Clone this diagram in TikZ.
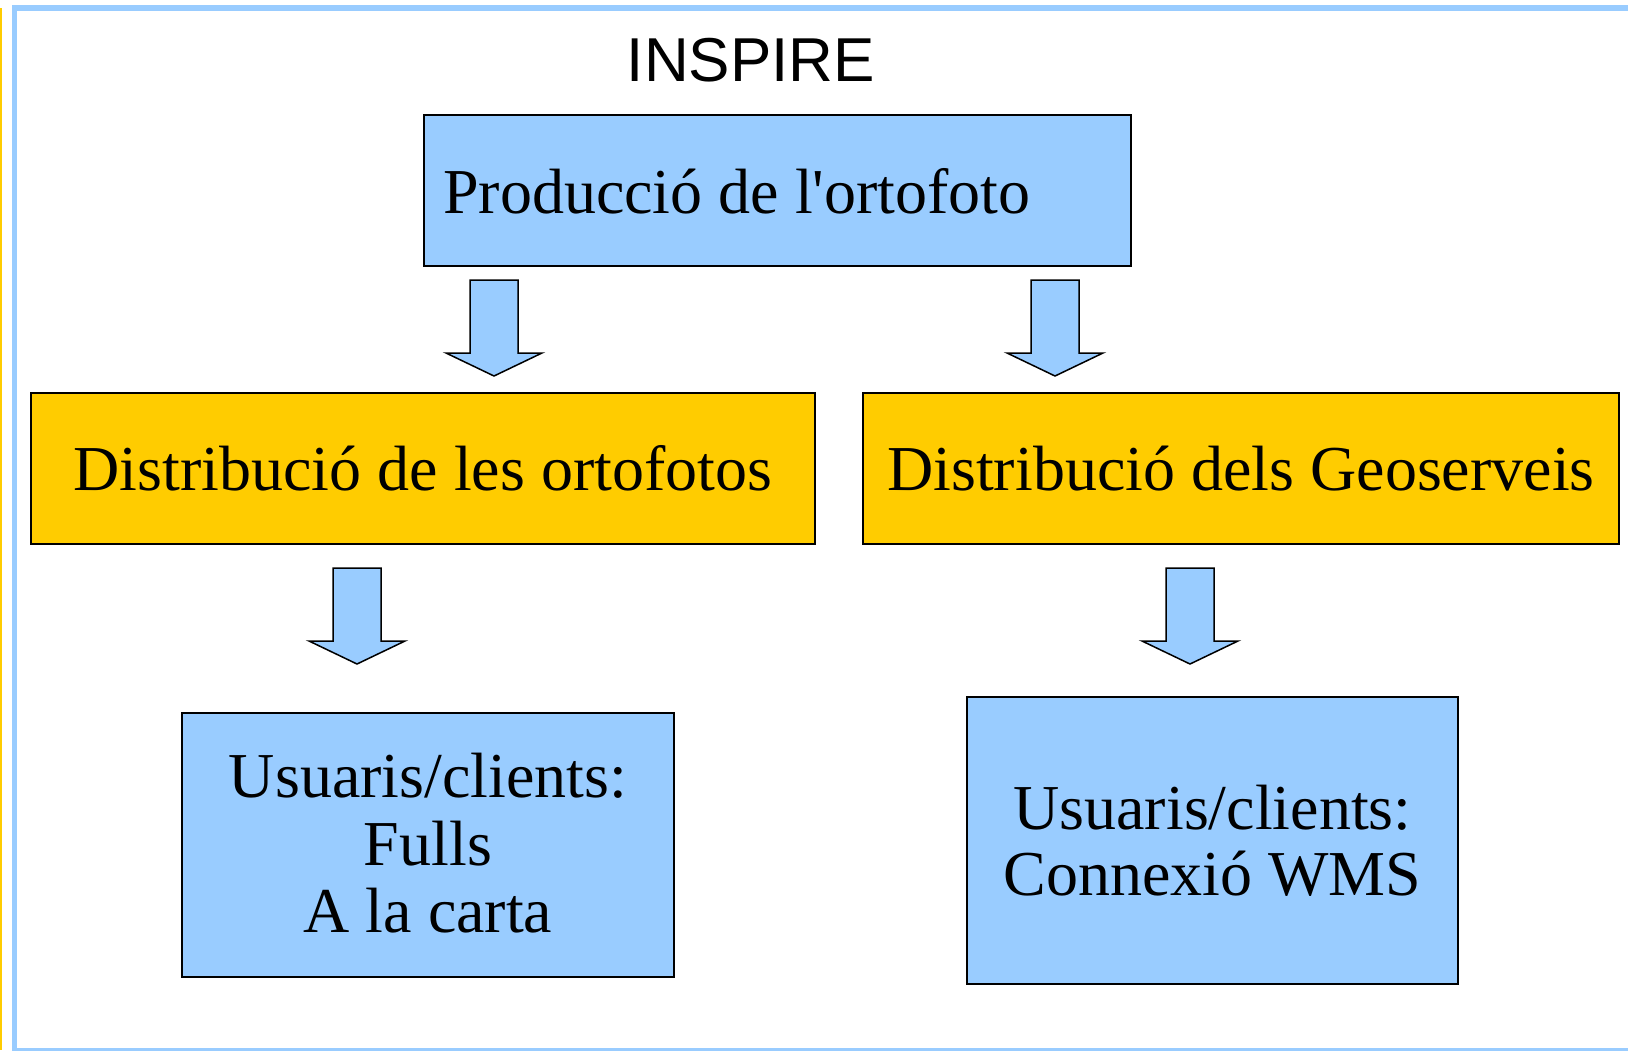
\documentclass[tikz,border=0pt]{standalone}
\usepackage{fontspec}
\newfontfamily\boxfont{Liberation Serif}
\newfontfamily\titlefont{Liberation Sans}
\definecolor{lblue}{HTML}{99CCFF}
\definecolor{lyellow}{HTML}{FFCC00}
\begin{document}
\begin{tikzpicture}[x=1pt,y=-1pt,
  box/.style={draw=black, line width=2pt, inner sep=0pt},
  bluebox/.style={box, fill=lblue},
  yellowbox/.style={box, fill=lyellow},
  lbl/.style={inner sep=0pt, font=\boxfont\fontsize{64}{67.5}\selectfont},
  arrowfill/.style={draw=black, line width=1.5pt, fill=lblue, line join=miter},
  darrow/.pic={\path[arrowfill] (-24,0) -- (24,0) -- (24,73) -- (48,73) -- (0,96) -- (-48,73) -- (-24,73) -- cycle;}
]
\useasboundingbox (0,0) rectangle (1628,1050);
\clip (0,0) rectangle (1628,1050);
\fill[white] (0,0) rectangle (1628,1050);
% frame
\draw[lblue, line width=5.5pt] (14.5,8) rectangle (1660,1051);
\draw[lyellow, line width=1.5pt] (0.75,8) -- (0.75,1050);
% title
\node[inner sep=0pt, anchor=base, font=\titlefont\fontsize{62}{66}\selectfont] (title) at (751,81) {INSPIRE};
% boxes
\node[bluebox, minimum width=707, minimum height=151, anchor=north west] (prod) at (423,114) {};
\node[yellowbox, minimum width=784, minimum height=151, anchor=north west] (dist1) at (30,392) {};
\node[yellowbox, minimum width=756, minimum height=151, anchor=north west] (dist2) at (862,392) {};
\node[bluebox, minimum width=492, minimum height=264, anchor=north west] (user1) at (181,712) {};
\node[bluebox, minimum width=491, minimum height=287, anchor=north west] (user2) at (966,696) {};
% texts
\node[lbl, anchor=base west] (tprod) at (443,213) {Producció de l'ortofoto};
\node[lbl, anchor=base] (tdist1) at (dist1.center |- 0,490) {Distribució de les ortofotos};
\node[lbl, anchor=base] (tdist2) at (dist2.center |- 0,490) {Distribució dels Geoserveis};
\node[lbl, anchor=base] (tu1a) at (user1.center |- 0,797) {Usuaris/clients:};
\node[lbl, anchor=base] (tu1b) at (user1.center |- 0,865) {Fulls};
\node[lbl, anchor=base] (tu1c) at (user1.center |- 0,932) {A la carta};
\node[lbl, anchor=base] (tu2a) at (user2.center |- 0,829) {Usuaris/clients:};
\node[lbl, anchor=base] (tu2b) at (user2.center |- 0,895) {Connexió WMS};
% arrows
\pic at (494,280) {darrow};
\pic at (1055,280) {darrow};
\pic at (357,568) {darrow};
\pic at (1190,568) {darrow};
\end{tikzpicture}
\end{document}
